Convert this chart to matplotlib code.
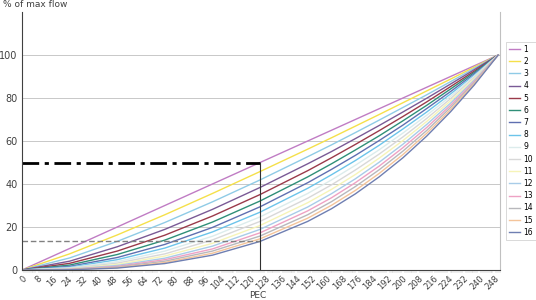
import matplotlib
matplotlib.use("Agg")
import matplotlib.pyplot as plt
from matplotlib.ticker import MultipleLocator

# x positions (PEC) where values were read
pec = [0, 25, 50, 75, 100, 125, 150, 162.5, 175, 187.5, 200, 212.5, 225, 237.5, 250]

# % of max flow for each of the 16 curves
c1 = [0, 10.0, 20.0, 30.0, 40.0, 50.0, 60.0, 65.0, 70.0, 75.0, 80.0, 85.0, 90.0, 95.0, 100]
c2 = [0, 7.5, 16.3, 25.7, 35.6, 45.8, 56.2, 61.5, 66.9, 72.3, 77.8, 83.3, 88.8, 94.4, 100]
c3 = [0, 5.6, 13.3, 22.1, 31.7, 41.9, 52.7, 58.2, 63.9, 69.7, 75.6, 81.5, 87.6, 93.8, 100]
c4 = [0, 4.1, 10.8, 18.9, 28.2, 38.4, 49.4, 55.1, 61.1, 67.2, 73.5, 79.9, 86.5, 93.2, 100]
c5 = [0, 3.1, 8.8, 16.2, 25.1, 35.1, 46.2, 52.2, 58.4, 64.8, 71.4, 78.2, 85.3, 92.5, 100]
c6 = [0, 2.3, 7.2, 13.9, 22.3, 32.1, 43.3, 49.4, 55.8, 62.4, 69.4, 76.6, 84.2, 91.9, 100]
c7 = [0, 1.7, 5.8, 11.9, 19.8, 29.4, 40.6, 46.8, 53.3, 60.2, 67.4, 75.1, 83.0, 91.3, 100]
c8 = [0, 1.3, 4.8, 10.2, 17.7, 26.9, 38.0, 44.3, 50.9, 58.0, 65.6, 73.5, 81.9, 90.7, 100]
c9 = [0, 1.0, 3.9, 8.8, 15.7, 24.7, 35.6, 41.9, 48.7, 55.9, 63.7, 72.0, 80.8, 90.2, 100]
c10 = [0, 0.7, 3.2, 7.5, 14.0, 22.6, 33.4, 39.6, 46.5, 53.9, 61.9, 70.5, 79.7, 89.6, 100]
c11 = [0, 0.5, 2.6, 6.5, 12.4, 20.7, 31.3, 37.5, 44.4, 52.0, 60.2, 69.1, 78.7, 89.0, 100]
c12 = [0, 0.4, 2.1, 5.5, 11.1, 18.9, 29.3, 35.5, 42.4, 50.1, 58.5, 67.7, 77.6, 88.4, 100]
c13 = [0, 0.3, 1.7, 4.8, 9.8, 17.3, 27.5, 33.6, 40.6, 48.3, 56.9, 66.3, 76.6, 87.8, 100]
c14 = [0, 0.2, 1.4, 4.1, 8.8, 15.8, 25.7, 31.8, 38.8, 46.6, 55.3, 64.9, 75.6, 87.3, 100]
c15 = [0, 0.2, 1.1, 3.5, 7.8, 14.5, 24.1, 30.1, 37.0, 44.9, 53.7, 63.6, 74.6, 86.7, 100]
c16 = [0, 0.1, 0.9, 3.0, 6.9, 13.3, 22.6, 28.5, 35.4, 43.3, 52.2, 62.3, 73.6, 86.1, 100]
curves = [c1, c2, c3, c4, c5, c6, c7, c8, c9, c10, c11, c12, c13, c14, c15, c16]
names = [str(i) for i in range(1, 17)]

colors = ["#c07cc4", "#f5e04a", "#8fcbe6", "#7a5a96", "#9a3a4a", "#2f8f78",
          "#5f6fb0", "#6cc4ea", "#dcecec", "#d8d8d8", "#f6f4b8", "#a8cce8",
          "#eea2c4", "#b8b8bc", "#f4c49a", "#6f7fb2"]

# marker lines
mid_x = 125
mid_hi = 50
mid_lo = 13.3

fig = plt.figure(figsize=(5.36, 3.0), dpi=100)
ax = fig.add_axes([0.041, 0.1, 0.892, 0.86])

for ys, col, nm in zip(curves, colors, names):
    ax.plot(pec, ys, color=col, lw=1.0, label=nm)

ax.plot([0, mid_x], [mid_hi, mid_hi], color="black", lw=2, ls=(0, (6, 2, 1.5, 2)))
ax.plot([0, mid_x], [mid_lo, mid_lo], color="#808080", lw=1, ls=(0, (4, 2)))
ax.plot([mid_x, mid_x], [0, mid_hi], color="#303030", lw=0.8)

ax.set_xlim(0, 251)
ax.set_ylim(0, 120)
ax.set_xticks(range(0, 249, 8))
ax.xaxis.set_minor_locator(MultipleLocator(1))
ax.set_yticks(range(0, 101, 20))
ax.tick_params(axis="x", labelsize=6, rotation=45, length=0, pad=3, colors="#404040")
ax.tick_params(axis="x", which="minor", length=2, width=0.3, color="#b0b0b0")
ax.tick_params(axis="y", labelsize=7, length=0, pad=3, colors="#404040")
for lab in ax.get_xticklabels():
    lab.set_ha("right")
    lab.set_va("top")
    lab.set_rotation_mode("anchor")

ax.grid(axis="y", color="#c8c8c8", lw=0.7)
ax.set_axisbelow(True)
ax.spines["top"].set_visible(False)
ax.spines["right"].set_color("#c0c0c0")
ax.spines["left"].set_color("#404040")
ax.spines["bottom"].set_color("#404040")

leg = ax.legend(loc="upper left", bbox_to_anchor=(1.012, 0.885), fontsize=5.5,
                frameon=True, fancybox=False, handlelength=1.4, labelspacing=0.42,
                borderpad=0.4, handletextpad=0.5, borderaxespad=0)
leg.get_frame().set_edgecolor("#c8c8c8")
leg.get_frame().set_linewidth(0.6)

fig.text(0.005, 0.999, "% of max flow", fontsize=6.5, va="top", color="#404040")
fig.text(0.48, 0.001, "PEC", fontsize=6.5, va="bottom", ha="center", color="#404040")

fig.savefig("out.png", dpi=100)
